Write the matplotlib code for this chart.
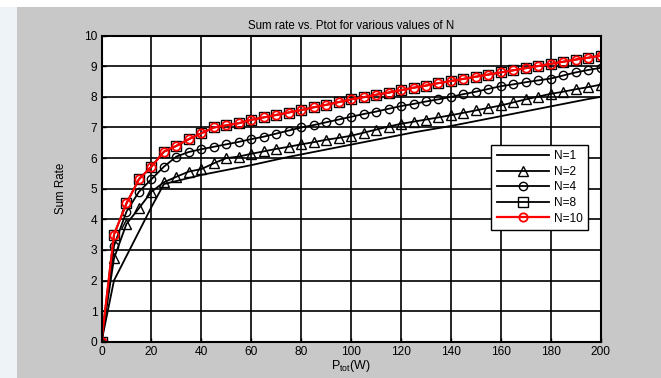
import numpy as np
import matplotlib
matplotlib.use('Agg')
import matplotlib.pyplot as plt
from matplotlib.patches import Rectangle

plt.rcParams['font.family'] = ['Liberation Sans', 'DejaVu Sans']
plt.rcParams['mathtext.default'] = 'regular'

# total power (W)
ptot = list(range(0, 205, 5))

# sum rate for N = 1, 2, 4, 8, 10
rate_n1 = [0, 2.0, 2.8, 3.6, 4.4, 5.15, 5.25, 5.35, 5.45, 5.53, 5.61, 5.69, 5.77, 5.86,
           5.95, 6.04, 6.12, 6.2, 6.28, 6.36, 6.44, 6.52, 6.6, 6.68, 6.76, 6.84, 6.91,
           6.98, 7.05, 7.13, 7.21, 7.29, 7.37, 7.45, 7.53, 7.61, 7.69, 7.77, 7.85, 7.93, 8.0]
rate_n2 = [0, 2.72, 3.85, 4.36, 4.9, 5.21, 5.39, 5.56, 5.64, 5.83, 6.0, 6.05, 6.14, 6.22,
           6.3, 6.37, 6.45, 6.52, 6.6, 6.66, 6.73, 6.83, 6.93, 7.03, 7.12, 7.19, 7.26,
           7.33, 7.4, 7.48, 7.56, 7.64, 7.72, 7.82, 7.92, 8.01, 8.1, 8.17, 8.25, 8.32, 8.4]
rate_n4 = [0, 3.13, 4.25, 4.9, 5.31, 5.72, 6.05, 6.2, 6.29, 6.37, 6.45, 6.53, 6.62, 6.7,
           6.8, 6.9, 7.0, 7.08, 7.17, 7.26, 7.35, 7.44, 7.52, 7.61, 7.7, 7.77, 7.85,
           7.92, 8.0, 8.09, 8.17, 8.26, 8.35, 8.41, 8.48, 8.54, 8.6, 8.7, 8.8, 8.88, 8.95]
rate_n8 = [0, 3.5, 4.52, 5.31, 5.72, 6.21, 6.4, 6.62, 6.81, 7.0, 7.07, 7.14, 7.25, 7.33,
           7.41, 7.49, 7.57, 7.66, 7.74, 7.83, 7.92, 7.99, 8.07, 8.14, 8.22, 8.3, 8.37,
           8.45, 8.52, 8.59, 8.66, 8.73, 8.8, 8.87, 8.94, 9.01, 9.08, 9.15, 9.22, 9.28, 9.35]
rate_n10 = [0, 3.5, 4.52, 5.31, 5.72, 6.21, 6.4, 6.62, 6.81, 7.0, 7.07, 7.14, 7.25, 7.33,
            7.41, 7.49, 7.57, 7.66, 7.74, 7.83, 7.92, 7.99, 8.07, 8.14, 8.22, 8.3, 8.37,
            8.45, 8.52, 8.59, 8.66, 8.73, 8.8, 8.87, 8.94, 9.01, 9.08, 9.15, 9.22, 9.28, 9.35]

labels = ['N=1', 'N=2', 'N=4', 'N=8', 'N=10']

fig = plt.figure(figsize=(6.61, 3.78), dpi=100, facecolor='#c8c8c8')
# white page margins around the grey figure window
fig.patches.append(Rectangle((0, 0), 17/661, 1, transform=fig.transFigure,
                             facecolor='#eef3f7', edgecolor='none', zorder=0))
fig.patches.append(Rectangle((0, 1 - 7/378), 1, 7/378, transform=fig.transFigure,
                             facecolor='white', edgecolor='none', zorder=0))

ax = fig.add_axes([101.5/661, 1 - 341.7/378, 499.2/661, 306/378])
ax.set_facecolor('white')

ax.plot(ptot, rate_n1, color='black', lw=1.3, label=labels[0])
ax.plot(ptot, rate_n2, color='black', lw=1.3, marker='^', ms=6.5, mfc='none',
        mew=1.0, label=labels[1])
ax.plot(ptot, rate_n4, color='black', lw=1.3, marker='o', ms=6, mfc='none',
        mew=1.0, label=labels[2])
ax.plot(ptot, rate_n8, color='black', lw=1.3, marker='s', ms=6.5, mfc='none',
        mew=1.0, label=labels[3])
ax.plot(ptot, rate_n10, color='red', lw=1.6, marker='o', ms=6, mfc='none',
        mew=1.3, label=labels[4])

ax.set_xlim(0, 200)
ax.set_ylim(0, 10)
ax.set_xticks(range(0, 201, 20))
ax.set_yticks(range(0, 11, 1))
ax.grid(True, color='black', lw=1.2, ls='-')
ax.set_axisbelow(True)
for sp in ax.spines.values():
    sp.set_linewidth(1.5)
ax.tick_params(direction='in', length=3, width=1, labelsize=8.6, colors='black', pad=3)

ax.set_title('Sum rate vs. Ptot for various values of N', fontsize=8.3, pad=5)
ax.set_xlabel(r'P$_{tot}$(W)', fontsize=9, labelpad=0)
ax.set_ylabel('Sum Rate', fontsize=8.3, labelpad=12)

leg = ax.legend(loc='upper right', bbox_to_anchor=(0.975, 0.643), fontsize=8.6,
                fancybox=False, framealpha=1, edgecolor='black', borderaxespad=0,
                handlelength=4.4, labelspacing=0.3, borderpad=0.45, handletextpad=0.4)
leg.get_frame().set_linewidth(1.0)

fig.savefig('out.png', dpi=100, facecolor=fig.get_facecolor())
